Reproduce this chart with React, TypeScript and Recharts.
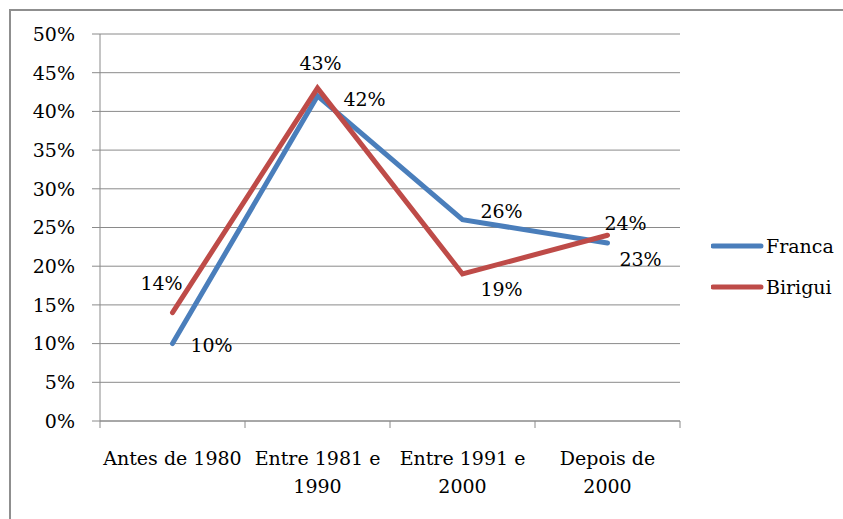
import React from "react";
import { LineChart, Line, XAxis, YAxis, CartesianGrid, Legend, LabelList } from "recharts";

// chart values
const categories = ["Antes de 1980", "Entre 1981 e\n1990", "Entre 1991 e\n2000", "Depois de\n2000"];
const seriesNames = ["Franca", "Birigui"];
const franca = [10, 42, 26, 23];
const birigui = [14, 43, 19, 24];
const yTicks = [0, 5, 10, 15, 20, 25, 30, 35, 40, 45, 50];

// label nudges (px) relative to each point, as placed in the original
const francaLabelShift = [
  [39, 2],
  [47, 3],
  [39, -9],
  [33, 16],
];
const biriguiLabelShift = [
  [-11, -29],
  [3, -25],
  [39, 15],
  [18, -12],
];

const W = 843;
const H = 519;
const FONT = "DejaVu Serif";
const FS = 19;
const GRID = "#8a8a8a";
const BLUE = "#4a7ebb";
const RED = "#be4b48";

const margin = { top: 34, right: 163, bottom: 0, left: 40 };
const Y_AXIS_W = 60;
const X_AXIS_H = 98;
const plotWidth = W - margin.left - margin.right - Y_AXIS_W;
const halfBand = plotWidth / categories.length / 2;

const data = categories.map((category, i) => ({
  category,
  Franca: franca[i],
  Birigui: birigui[i],
}));

function CategoryTick(props: any) {
  const { x, y, payload, index } = props;
  const lines = String(payload.value).split("\n");
  return (
    <g>
      {index === 0 && (
        <line x1={x - halfBand} y1={y} x2={x - halfBand} y2={y + 7} stroke={GRID} />
      )}
      <line x1={x + halfBand} y1={y} x2={x + halfBand} y2={y + 7} stroke={GRID} />
      <text x={x} y={y + 44} textAnchor="middle" fill="#000" fontFamily={FONT} fontSize={FS}>
        {lines.map((l, i) => (
          <tspan key={i} x={x} dy={i === 0 ? 0 : 28}>
            {l}
          </tspan>
        ))}
      </text>
    </g>
  );
}

function PercentTick(props: any) {
  const { x, y, payload } = props;
  return (
    <text x={x} y={y + FS * 0.36} textAnchor="end" fill="#000" fontFamily={FONT} fontSize={FS}>
      {payload.value}%
    </text>
  );
}

function makeLabel(shifts: number[][]) {
  return (props: any) => {
    const { x, y, value, index } = props;
    const [dx, dy] = shifts[index] || [0, 0];
    return (
      <text x={x + dx} y={y + dy + FS * 0.36} textAnchor="middle" fill="#000" fontFamily={FONT} fontSize={FS}>
        {value}%
      </text>
    );
  };
}

function LegendBox(props: any) {
  const items = [...(props.payload || [])].sort(
    (a: any, b: any) => seriesNames.indexOf(a.value) - seriesNames.indexOf(b.value)
  );
  return (
    <svg width={130} height={80}>
      {items.map((it: any, i: number) => {
        const cy = 16 + i * 41;
        return (
          <g key={it.value}>
            <line x1={2} y1={cy} x2={50} y2={cy} stroke={it.color} strokeWidth={5} strokeLinecap="round" />
            <text x={55} y={cy + 7} fill="#000" fontFamily={FONT} fontSize={FS}>
              {it.value}
            </text>
          </g>
        );
      })}
    </svg>
  );
}

export default function App() {
  return (
    <div
      style={{
        position: "absolute",
        left: 0,
        top: 0,
        width: W,
        height: H,
        overflow: "hidden",
        background: "#fff",
      }}
    >
      <div
        style={{
          position: "absolute",
          left: 9,
          top: 9,
          width: W - 9,
          height: H - 9,
          borderLeft: "2px solid #8f8f8f",
          borderTop: "2px solid #8f8f8f",
          boxSizing: "border-box",
        }}
      />
      <div style={{ position: "absolute", left: 0, top: 0 }}>
        <LineChart width={W} height={H} data={data} margin={margin}>
          <CartesianGrid vertical={false} stroke={GRID} />
          <XAxis
            dataKey="category"
            scale="band"
            height={X_AXIS_H}
            interval={0}
            tickLine={false}
            tickSize={0}
            tickMargin={0}
            axisLine={{ stroke: GRID }}
            tick={<CategoryTick />}
          />
          <YAxis
            width={Y_AXIS_W}
            domain={[0, 50]}
            ticks={yTicks}
            interval={0}
            tickSize={8}
            tickMargin={17}
            axisLine={{ stroke: GRID }}
            tickLine={{ stroke: GRID }}
            tick={<PercentTick />}
          />
          <Legend
            layout="vertical"
            align="center"
            verticalAlign="middle"
            content={<LegendBox />}
            wrapperStyle={{ position: "absolute", left: 711, top: 230, width: 130 }}
          />
          <Line
            type="linear"
            dataKey="Franca"
            stroke={BLUE}
            strokeWidth={5}
            strokeLinecap="round"
            dot={false}
            activeDot={false}
            isAnimationActive={false}
          >
            <LabelList dataKey="Franca" content={makeLabel(francaLabelShift)} />
          </Line>
          <Line
            type="linear"
            dataKey="Birigui"
            stroke={RED}
            strokeWidth={5}
            strokeLinecap="round"
            dot={false}
            activeDot={false}
            isAnimationActive={false}
          >
            <LabelList dataKey="Birigui" content={makeLabel(biriguiLabelShift)} />
          </Line>
        </LineChart>
      </div>
    </div>
  );
}
